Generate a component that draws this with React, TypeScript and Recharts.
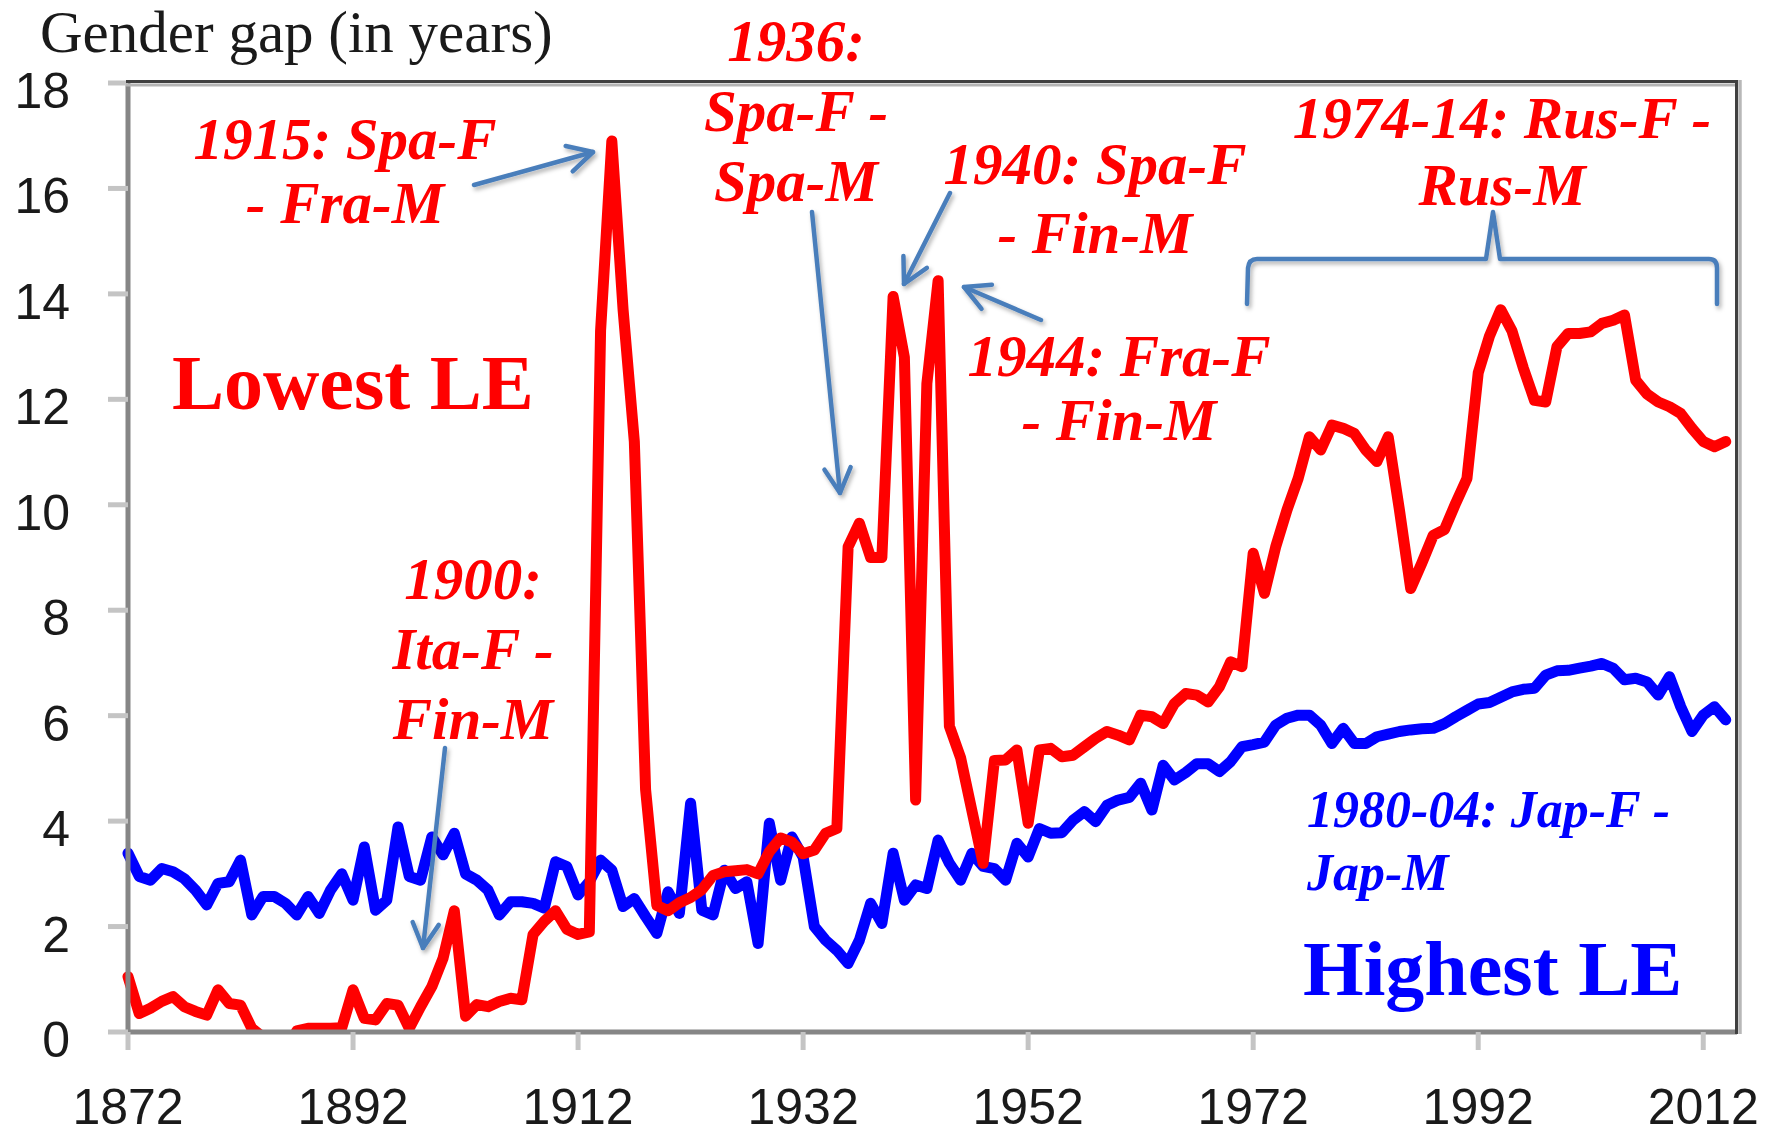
import { LineChart, Line, XAxis, YAxis } from 'recharts'

// ─── Data ─────────────────────────────────────────────────────────────────
const FIRST_YEAR = 1872
const X_TICKS = [1872, 1892, 1912, 1932, 1952, 1972, 1992, 2012]
const Y_TICKS = [0, 2, 4, 6, 8, 10, 12, 14, 16, 18]

// Gender gap (F - M life expectancy) for the lowest-LE country, 1872-2014
const lowestLeGap = [
  1.05, 0.35, 0.45, 0.58, 0.67, 0.48, 0.39, 0.32, // 1872-1879
  0.8, 0.54, 0.51, 0.07, -0.1, -0.4, -0.4, 0.02, 0.07, 0.07, // 1880s
  0.07, 0.08, 0.8, 0.26, 0.23, 0.54, 0.51, 0.07, 0.48, 0.86, // 1890s
  1.4, 2.3, 0.3, 0.52, 0.48, 0.58, 0.64, 0.61, 1.85, 2.1, // 1900s
  2.3, 1.95, 1.85, 1.9, 13.3, 16.9, 13.7, 11.2, 4.6, 2.4, // 1910s
  2.3, 2.45, 2.55, 2.7, 2.97, 3.04, 3.06, 3.08, 3.0, 3.42, // 1920s
  3.68, 3.6, 3.38, 3.45, 3.77, 3.86, 9.2, 9.65, 9.0, 9.0, // 1930s
  13.95, 12.8, 4.4, 12.3, 14.25, 5.8, 5.2, 4.2, 3.2, 5.15, // 1940s
  5.16, 5.35, 3.96, 5.35, 5.38, 5.22, 5.25, 5.41, 5.57, 5.7, // 1950s
  5.63, 5.54, 6.01, 5.98, 5.85, 6.23, 6.42, 6.39, 6.26, 6.55, // 1960s
  7.02, 6.93, 9.08, 8.32, 9.2, 9.9, 10.5, 11.29, 11.04, 11.51, // 1970s
  11.45, 11.35, 11.04, 10.82, 11.29, 9.9, 8.41, 8.9, 9.42, 9.53, // 1980s
  10.03, 10.5, 12.5, 13.2, 13.7, 13.3, 12.6, 11.98, 11.95, 13.0, // 1990s
  13.25, 13.25, 13.28, 13.44, 13.5, 13.6, 12.36, 12.1, 11.95, 11.86, // 2000s
  11.73, 11.45, 11.2, 11.1, 11.2, // 2010-2014
]

// Gender gap for the highest-LE country, 1872-2014
const highestLeGap = [
  3.39, 2.95, 2.88, 3.1, 3.04, 2.91, 2.69, 2.41, // 1872-1879
  2.82, 2.85, 3.26, 2.22, 2.57, 2.57, 2.44, 2.22, 2.57, 2.25, // 1880s
  2.69, 3.0, 2.5, 3.51, 2.31, 2.5, 3.89, 2.95, 2.88, 3.7, // 1890s
  3.36, 3.77, 3.0, 2.88, 2.69, 2.22, 2.47, 2.47, 2.44, 2.35, // 1900s
  3.23, 3.14, 2.6, 2.85, 3.26, 3.07, 2.38, 2.53, 2.19, 1.87, // 1910s
  2.66, 2.25, 4.34, 2.31, 2.22, 3.07, 2.72, 2.85, 1.68, 3.96, // 1920s
  2.88, 3.7, 3.32, 2.0, 1.74, 1.55, 1.3, 1.74, 2.44, 2.06, // 1930s
  3.39, 2.5, 2.79, 2.72, 3.64, 3.2, 2.88, 3.39, 3.14, 3.1, // 1940s
  2.88, 3.58, 3.32, 3.86, 3.77, 3.78, 4.02, 4.18, 3.99, 4.3, // 1950s
  4.4, 4.45, 4.72, 4.21, 5.06, 4.78, 4.92, 5.09, 5.09, 4.94, // 1960s
  5.13, 5.41, 5.45, 5.5, 5.82, 5.95, 6.01, 6.01, 5.82, 5.47, // 1970s
  5.76, 5.47, 5.47, 5.6, 5.65, 5.7, 5.73, 5.75, 5.76, 5.85, // 1980s
  5.98, 6.1, 6.22, 6.25, 6.35, 6.45, 6.5, 6.52, 6.77, 6.85, // 1990s
  6.86, 6.9, 6.94, 6.99, 6.9, 6.68, 6.71, 6.64, 6.39, 6.74, // 2000s
  6.17, 5.7, 6.01, 6.17, 5.92, // 2010-2014
]

const chartData = lowestLeGap.map((v, i) => ({
  year: FIRST_YEAR + i,
  lowest: v,
  highest: highestLeGap[i],
}))

// ─── Styling / annotation layout ──────────────────────────────────────────
const W = 1777
const H = 1136
const RED = '#ff0000'
const BLUE = '#0000ff'
const ARROW = '#4a7ebb'
const SERIF = "'Liberation Serif', 'Times New Roman', serif"
const SANS = "'Liberation Sans', Arial, sans-serif"

interface Note {
  lines: string[]
  x: number
  y: number
  lh: number
  anchor: 'start' | 'middle'
  color: string
  size: number
  italic?: boolean
}

const NOTES: Note[] = [
  { lines: ['1915: Spa-F', '- Fra-M'], x: 345, y: 159, lh: 64, anchor: 'middle', color: RED, size: 59, italic: true },
  { lines: ['1936:', 'Spa-F -', 'Spa-M'], x: 796, y: 61, lh: 70, anchor: 'middle', color: RED, size: 59, italic: true },
  { lines: ['1940: Spa-F', '- Fin-M'], x: 1095, y: 184, lh: 69, anchor: 'middle', color: RED, size: 59, italic: true },
  { lines: ['1944: Fra-F', '- Fin-M'], x: 1119, y: 376, lh: 64, anchor: 'middle', color: RED, size: 59, italic: true },
  { lines: ['1974-14: Rus-F -', 'Rus-M'], x: 1502, y: 138, lh: 67, anchor: 'middle', color: RED, size: 59, italic: true },
  { lines: ['1900:', 'Ita-F -', 'Fin-M'], x: 473, y: 599, lh: 70, anchor: 'middle', color: RED, size: 59, italic: true },
  { lines: ['1980-04: Jap-F -', 'Jap-M'], x: 1307, y: 827, lh: 63, anchor: 'start', color: BLUE, size: 52, italic: true },
  { lines: ['Lowest LE'], x: 172, y: 409, lh: 0, anchor: 'start', color: RED, size: 78 },
  { lines: ['Highest LE'], x: 1303, y: 995, lh: 0, anchor: 'start', color: BLUE, size: 78 },
]

// tail -> tip
const ARROWS = [
  [474, 185, 593, 152],
  [812, 212, 840, 493],
  [950, 193, 904, 284],
  [1041, 320, 964, 287],
  [445, 748, 423, 948],
]

function arrowHead(x1: number, y1: number, x2: number, y2: number) {
  const a = Math.atan2(y2 - y1, x2 - x1)
  const len = 28
  const spread = (28 * Math.PI) / 180
  const p1 = [x2 - len * Math.cos(a - spread), y2 - len * Math.sin(a - spread)]
  const p2 = [x2 - len * Math.cos(a + spread), y2 - len * Math.sin(a + spread)]
  return `M${p1[0]},${p1[1]} L${x2},${y2} L${p2[0]},${p2[1]}`
}

// ─── Ticks ────────────────────────────────────────────────────────────────
function XTick({ x, y, payload }: any) {
  return (
    <text x={x} y={y} dy={72} textAnchor="middle" fontSize={50} fontFamily={SANS} fill="#1a1a1a">
      {payload.value}
    </text>
  )
}

function YTick({ x, y, payload }: any) {
  return (
    <text x={x} y={y} dy={25} textAnchor="end" fontSize={50} fontFamily={SANS} fill="#1a1a1a">
      {payload.value}
    </text>
  )
}

// ─── Overlay: frame, title, arrows, notes ─────────────────────────────────
function Overlay() {
  return (
    <svg width={W} height={H} style={{ position: 'absolute', left: 0, top: 0, pointerEvents: 'none' }}>
      <defs>
        <filter id="shade" x="-20%" y="-20%" width="140%" height="140%">
          <feDropShadow dx="2" dy="3" stdDeviation="2" floodColor="#000" floodOpacity="0.3" />
        </filter>
      </defs>

      {/* plot frame (top / right) */}
      <line x1={126} y1={85} x2={1738} y2={85} stroke="#b4b4b4" strokeWidth={3} />
      <line x1={1740} y1={80} x2={1740} y2={1034} stroke="#b8b8b8" strokeWidth={3.5} />
      <line x1={126} y1={81.5} x2={1738} y2={81.5} stroke="#404040" strokeWidth={3} />
      <line x1={1736.5} y1={80} x2={1736.5} y2={1034} stroke="#404040" strokeWidth={3} />

      <text x={40} y={52} fontSize={59} fontFamily={SERIF} fill="#1a1a1a">
        Gender gap (in years)
      </text>

      <g filter="url(#shade)" stroke={ARROW} strokeWidth={4.5} fill="none" strokeLinecap="round">
        {ARROWS.map(([x1, y1, x2, y2], i) => (
          <g key={i}>
            <line x1={x1} y1={y1} x2={x2} y2={y2} />
            <path d={arrowHead(x1, y1, x2, y2)} strokeLinejoin="round" />
          </g>
        ))}
        {/* bracket over the Russian period */}
        <path
          d="M1247,304 L1248,268 Q1249,259 1257,259 L1486,259 L1493,212 L1500,259 L1709,259 Q1717,259 1717,268 L1717,304"
          strokeLinejoin="round"
        />
      </g>

      {NOTES.map((n, i) => (
        <text
          key={i}
          x={n.x}
          y={n.y}
          textAnchor={n.anchor}
          fontSize={n.size}
          fontFamily={SERIF}
          fontWeight="bold"
          fontStyle={n.italic ? 'italic' : 'normal'}
          fill={n.color}
        >
          {n.lines.map((t, j) => (
            <tspan key={j} x={n.x} y={n.y + j * n.lh}>
              {t}
            </tspan>
          ))}
        </text>
      ))}
    </svg>
  )
}

// ─── App ──────────────────────────────────────────────────────────────────
export default function App() {
  return (
    <div style={{ position: 'absolute', left: 0, top: 0, width: W, height: H, background: '#fff' }}>
      <LineChart width={W} height={H} data={chartData} margin={{ top: 83, right: 40, left: 0, bottom: 0 }}>
        <XAxis
          dataKey="year"
          type="number"
          domain={[1872, 2015]}
          ticks={X_TICKS}
          interval={0}
          height={104}
          tickSize={18}
          tickMargin={2}
          axisLine={{ stroke: '#868686', strokeWidth: 5 }}
          tickLine={{ stroke: '#c4c4c4', strokeWidth: 5 }}
          tick={<XTick />}
        />
        <YAxis
          type="number"
          domain={[0, 18]}
          ticks={Y_TICKS}
          interval={0}
          allowDataOverflow
          width={128}
          tickSize={20}
          tickMargin={38}
          axisLine={{ stroke: '#868686', strokeWidth: 5 }}
          tickLine={{ stroke: '#c4c4c4', strokeWidth: 5 }}
          tick={<YTick />}
        />
        <Line
          dataKey="highest"
          type="linear"
          stroke={BLUE}
          strokeWidth={11}
          strokeLinejoin="round"
          strokeLinecap="round"
          dot={false}
          isAnimationActive={false}
        />
        <Line
          dataKey="lowest"
          type="linear"
          stroke={RED}
          strokeWidth={11}
          strokeLinejoin="round"
          strokeLinecap="round"
          dot={false}
          isAnimationActive={false}
        />
      </LineChart>
      <Overlay />
    </div>
  )
}
